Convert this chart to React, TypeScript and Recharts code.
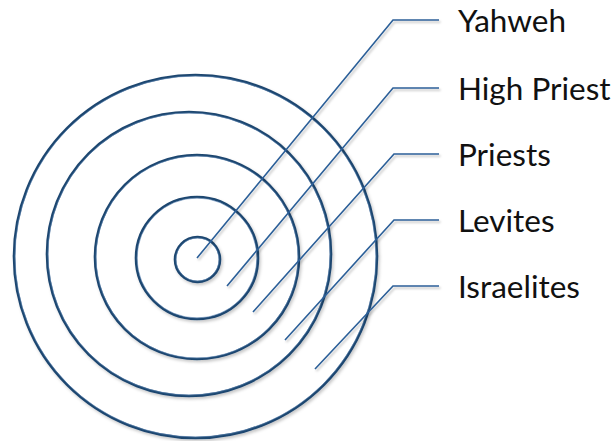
import React from 'react';
import { ScatterChart, Scatter, XAxis, YAxis } from 'recharts';

const levels = ['Yahweh', 'High Priest', 'Priests', 'Levites', 'Israelites'];
const ringRadius = [22.5, 61, 102, 142, 181.5];
const ringCenterX = [197.5, 197, 197, 189, 195.5];
const ringCenterY = [259.5, 258, 257, 254, 256.5];
const leaderStartX = [197, 227, 253, 285, 315];
const leaderStartY = [258, 286, 312, 340, 369];
const elbowX = [393, 393, 394, 394, 393];
const labelY = [20, 88, 154, 220, 286];
const leaderEndX = 439;
const labelX = 458;

const W = 615;
const H = 441;

const rings = levels
  .map((name, i) => ({ name, x: ringCenterX[i], y: ringCenterY[i], r: ringRadius[i] }))
  .reverse();

const leaders = levels.map((name, i) => [
  { x: leaderStartX[i], y: leaderStartY[i] },
  { x: elbowX[i], y: labelY[i] },
  { x: leaderEndX, y: labelY[i] },
]);

const labels = levels.map((name, i) => ({ name, x: labelX, y: labelY[i] }));

const RingShape = (props: any) => {
  const { cx, cy, payload } = props;
  const r = payload.r; // x domain spans the full chart width, so 1 unit = 1 px
  return (
    <g>
      <circle cx={cx} cy={cy} r={r} fill="#ffffff" stroke="#1f4670" strokeWidth={2.6} filter="url(#ringShadow)" />
      <circle cx={cx} cy={cy} r={r - 1} fill="none" stroke="#5d86b5" strokeWidth={0.8} opacity={0.7} />
    </g>
  );
};

const LabelShape = (props: any) => {
  const { cx, cy, payload } = props;
  return (
    <text x={cx} y={cy + 12} fontFamily="Lato, 'Noto Sans', sans-serif" fontSize={31.5} fill="#111" textAnchor="start">
      {payload.name}
    </text>
  );
};

const NoShape = () => <g />;

export default function App() {
  return (
    <div style={{ position: 'absolute', left: 0, top: 0, width: W, height: H, background: '#fff' }}>
      <svg width={0} height={0} style={{ position: 'absolute' }}>
        <defs>
          <filter id="ringShadow" x="-20%" y="-20%" width="140%" height="140%">
            <feDropShadow dx="1.5" dy="2" stdDeviation="1.5" floodColor="#000" floodOpacity="0.22" />
          </filter>
          <filter id="lineShadow" x="-20%" y="-20%" width="140%" height="140%">
            <feDropShadow dx="1.5" dy="2" stdDeviation="1.2" floodColor="#000" floodOpacity="0.25" />
          </filter>
        </defs>
      </svg>
      <ScatterChart width={W} height={H} margin={{ top: 0, right: 0, bottom: 0, left: 0 }}>
        <XAxis type="number" dataKey="x" domain={[0, W]} hide />
        <YAxis type="number" dataKey="y" domain={[0, H]} reversed hide />
        <Scatter data={rings} shape={RingShape} isAnimationActive={false} />
        {leaders.map((pts, i) => (
          <Scatter
            key={i}
            data={pts}
            line={{ stroke: '#2c5f98', strokeWidth: 1.6, filter: 'url(#lineShadow)' }}
            lineType="joint"
            shape={NoShape}
            isAnimationActive={false}
          />
        ))}
        <Scatter data={labels} shape={LabelShape} isAnimationActive={false} />
      </ScatterChart>
    </div>
  );
}
